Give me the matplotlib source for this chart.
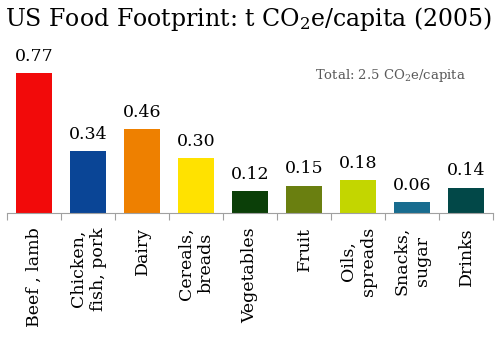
import matplotlib.pyplot as plt

categories = ['Beef , lamb', 'Chicken,\nfish, pork', 'Dairy', 'Cereals,\nbreads',
              'Vegetables', 'Fruit', 'Oils,\nspreads', 'Snacks,\nsugar', 'Drinks']
values = [0.77, 0.34, 0.46, 0.30, 0.12, 0.15, 0.18, 0.06, 0.14]
colors = ['#f20a0a', '#0a4596', '#ee8000', '#ffe200', '#0b3f08',
          '#6a7f10', '#c3d600', '#186c8f', '#024848']

plt.rcParams['font.family'] = ['DejaVu Serif']
plt.rcParams['mathtext.fontset'] = 'dejavuserif'

fig = plt.figure(figsize=(5, 3.39), dpi=100)
ax = fig.add_axes([0.014, 0.3717, 0.972, 0.456])

x = list(range(len(categories)))
bars = ax.bar(x, values, width=0.667, color=colors)
for b, v in zip(bars, values):
    ax.annotate('%.2f' % v, (b.get_x() + b.get_width() / 2, v),
                xytext=(0, 6), textcoords='offset points',
                ha='center', va='bottom', fontsize=12.5)

ax.set_xlim(-0.5, len(categories) - 0.5)
ax.set_ylim(0, 0.85)
for s in ['top', 'right', 'left']:
    ax.spines[s].set_visible(False)
ax.spines['bottom'].set_color('#a0a0a0')
ax.set_yticks([])

# boundaries get the tick marks, labels sit in the middle
ax.set_xticks([i - 0.5 for i in range(len(categories) + 1)])
ax.set_xticklabels([])
ax.tick_params(axis='x', length=5, color='#a0a0a0')
ax.set_xticks(x, minor=True)
ax.set_xticklabels(categories, minor=True, rotation=90, fontsize=12.5,
                   va='top', ha='center', linespacing=1.25)
ax.tick_params(axis='x', which='minor', length=0, pad=10)

fig.text(0.498, 0.945, 'US Food Footprint: t CO$_2$e/capita (2005)',
         ha='center', va='center', fontsize=17)
fig.text(0.63, 0.778, 'Total: 2.5 CO$_2$e/capita', ha='left', va='center',
         fontsize=9.5, color='#595959')

fig.savefig('out.png', dpi=100)
